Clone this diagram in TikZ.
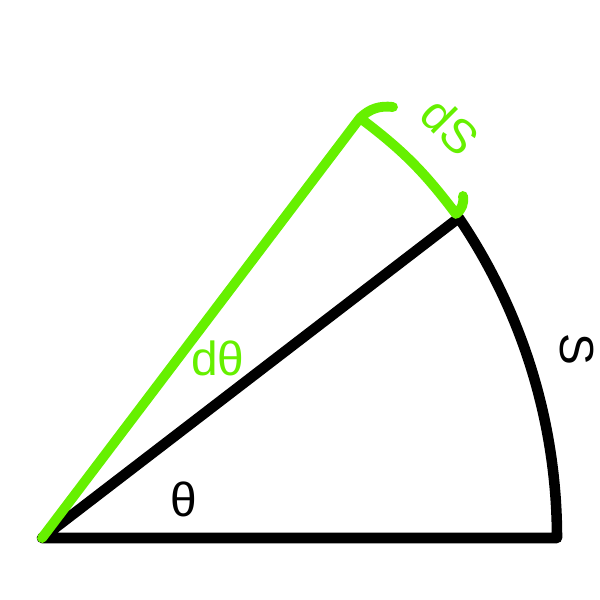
\documentclass[tikz,border=0pt]{standalone}
\usepackage{fontspec}
\setmainfont{Liberation Sans}
\definecolor{lgreen}{HTML}{66F000}
\tikzset{
  sector/.style={draw=black,line width=7.5pt},
  slice/.style={draw=lgreen,line width=7pt},
  lbl/.style={inner sep=0pt,font=\fontsize{34}{38}\selectfont}
}
\begin{document}
\begin{tikzpicture}[line join=round, line cap=round]
\useasboundingbox (0,0) rectangle (15,15);
\path(1.05,1.55)coordinate(o)
  (13.925,1.55)coordinate(a)
  (11.475,9.55)coordinate(b)
  (9.0,12.05)coordinate(c)
  ++(0.825,0.275)coordinate(ch)
  (11.4,9.65)coordinate(d)
  ++(0.175,0.45)coordinate(dh)
  ;
\draw[sector](o)--(a) arc[start angle=0,end angle=34.1,radius=14.275]--(o);
\draw[slice](o)--(c);
\draw[slice](ch)to[bend right=25](c)to[bend left=8](d)to[bend right=30](dh);
% labels
\node[lbl,lgreen](dtheta) at (5.45,6.05){dθ};
\node[lbl](theta) at (4.6,2.525){θ};
\node[lbl,rotate=-90](s) at (14.425,6.275){S};
\node[lbl,lgreen,rotate=-45](ds) at (11.25,11.85){dS};
\end{tikzpicture}
\end{document}
